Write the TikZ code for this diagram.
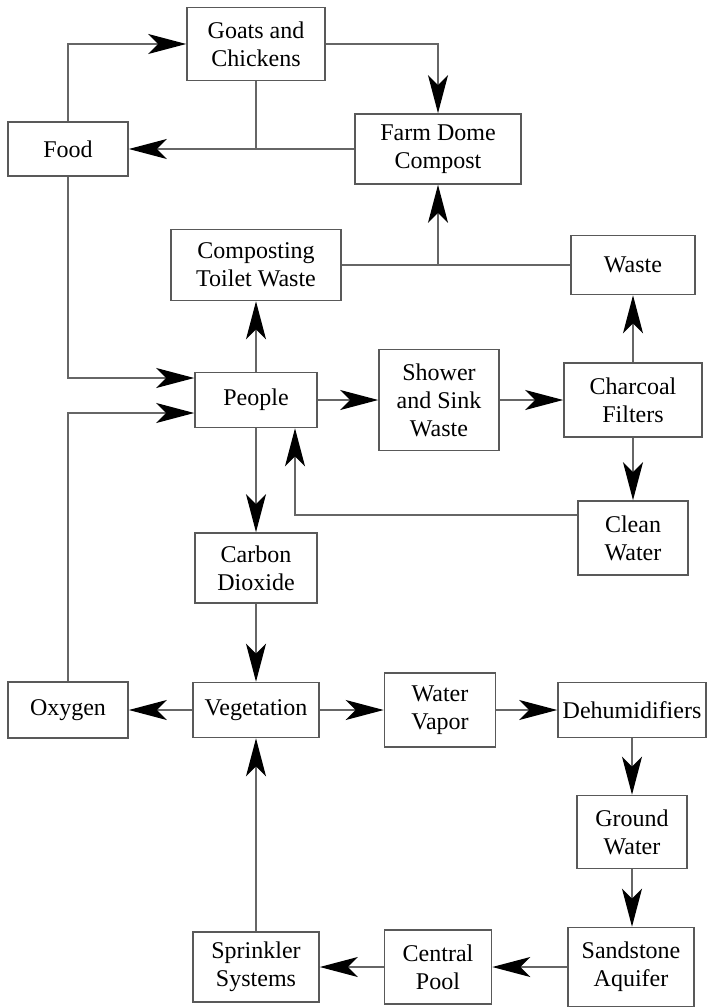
\documentclass[tikz,border=0pt]{standalone}
\usepackage{fontspec}
\setmainfont{Liberation Serif}
\usetikzlibrary{arrows.meta}
\begin{document}
\begin{tikzpicture}[x=1pt, y=-1pt,
  box/.style={draw=black!65, line width=1.6pt, fill=white, align=center, inner sep=0pt, font=\fontsize{24}{28}\selectfont},
  link/.style={draw=black!60, line width=1.4pt},
  flow/.style={link, -{Stealth[length=38pt, width=20pt, inset=10pt, color=black]}}]
\useasboundingbox (0,0) rectangle (707,1008);
% farm loop
\node[box, minimum width=138pt, minimum height=73pt] (goats) at (256,44) {Goats and\\Chickens};
\node[box, minimum width=120pt, minimum height=54pt] (food) at (68,149) {Food};
\node[box, minimum width=166pt, minimum height=70pt] (farm) at (438,149) {Farm Dome\\Compost};
\node[box, minimum width=170pt, minimum height=71pt] (toilet) at (256,265) {Composting\\Toilet Waste};
\node[box, minimum width=124pt, minimum height=59pt] (waste) at (633,265) {Waste};
% people and water
\node[box, minimum width=122pt, minimum height=55pt] (people) at (256,400) {People};
\node[box, minimum width=120pt, minimum height=101pt] (shower) at (439,400) {Shower\\and Sink\\Waste};
\node[box, minimum width=138pt, minimum height=74pt] (charcoal) at (633,400) {Charcoal\\Filters};
\node[box, minimum width=110pt, minimum height=74pt] (clean) at (633,538) {Clean\\Water};
\node[box, minimum width=122pt, minimum height=70pt] (co2) at (256,568) {Carbon\\Dioxide};
% vegetation row
\node[box, minimum width=120pt, minimum height=56pt] (oxygen) at (68,710) {Oxygen};
\node[box, minimum width=126pt, minimum height=55pt] (veg) at (256,710) {Vegetation};
\node[box, minimum width=111pt, minimum height=74pt] (vapor) at (440,710) {Water\\Vapor};
\node[box, minimum width=148pt, minimum height=55pt] (dehum) at (632,710) {Dehumidifiers};
\node[box, minimum width=110pt, minimum height=73pt] (ground) at (632,832) {Ground\\Water};
% bottom row
\node[box, minimum width=126pt, minimum height=79pt] (sand) at (631,967) {Sandstone\\Aquifer};
\node[box, minimum width=107pt, minimum height=74pt] (pool) at (438,967) {Central\\Pool};
\node[box, minimum width=126pt, minimum height=70pt] (sprinkler) at (256,967) {Sprinkler\\Systems};
% connectors, top
\draw[flow] (food.north) |- (goats.west);
\draw[flow] (goats.east) -| (farm.north);
\draw[link] (goats.south) -- (goats.south |- farm.west);
\draw[flow] (farm.west) -- (food.east);
\draw[link] (toilet.east) -- (waste.west);
\draw[flow] (farm.south |- toilet.east) -- (farm.south);
\draw[flow] (people.north) -- (toilet.south);
\draw[flow] (food.south) |- ([yshift=22pt]people.west);
\draw[flow] (oxygen.north) |- ([yshift=-13pt]people.west);
% connectors, middle
\draw[flow] (people.east) -- (shower.west);
\draw[flow] (shower.east) -- (charcoal.west);
\draw[flow] (charcoal.north) -- (charcoal.north |- waste.south);
\draw[flow] (charcoal.south) -- (charcoal.south |- clean.north);
\draw[flow] ([yshift=23pt]clean.west) -| ([xshift=39pt]people.south);
\draw[flow] (people.south) -- (co2.north);
\draw[flow] (co2.south) -- (veg.north);
% connectors, bottom
\draw[flow] (veg.west) -- (oxygen.east);
\draw[flow] (veg.east) -- (vapor.west);
\draw[flow] (vapor.east) -- (dehum.west);
\draw[flow] (dehum.south) -- (ground.north);
\draw[flow] (ground.south) -- (ground.south |- sand.north);
\draw[flow] (sand.west) -- (pool.east);
\draw[flow] (pool.west) -- (sprinkler.east);
\draw[flow] (sprinkler.north) -- (veg.south);
\end{tikzpicture}
\end{document}
